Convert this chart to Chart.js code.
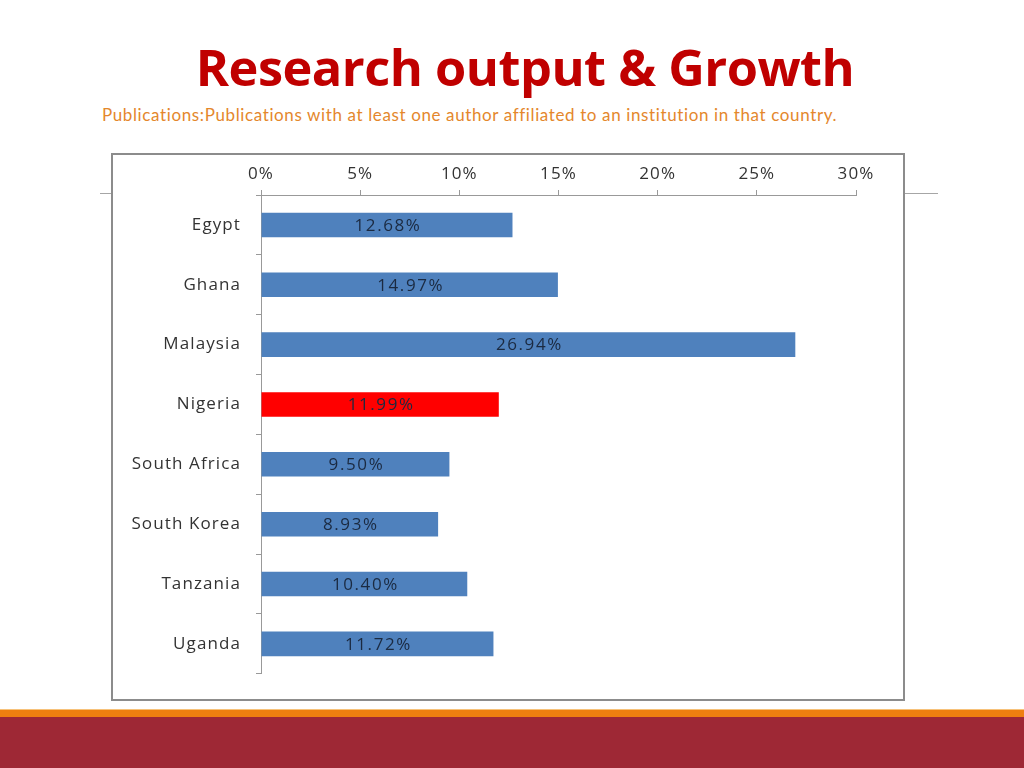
<!DOCTYPE html>
<html>
<head>
<meta charset="utf-8">
<script src="https://cdn.jsdelivr.net/npm/chart.js@4"></script>
<style>
body { margin: 0; width: 1024px; height: 768px; background: #fff; position: relative; overflow: hidden; font-family: Lato, sans-serif; }
#title { position: absolute; left: 0; width: 1050px; top: 42px; text-align: center; font-family: "Open Sans", sans-serif; font-weight: bold; font-size: 50.5px; color: #C00000; line-height: 1; letter-spacing: -0.5px; }
#sub { position: absolute; left: 102px; top: 104px; font-family: Lato, sans-serif; font-size: 17px; letter-spacing: 0.62px; color: #E4872C; white-space: nowrap; }
#rule { position: absolute; left: 100px; width: 838px; top: 193px; height: 1px; background: #A6A6A6; }
#frame { position: absolute; left: 111px; top: 153px; width: 790px; height: 544px; border: 2px solid #8C8C8C; background: #fff; }
#chartBox { position: absolute; left: 0; top: 0; width: 790px; height: 544px; }
#orange { position: absolute; left: 0; top: 709px; width: 1024px; height: 8px; background: #EF7F10; border-top: 1px solid #F7C27A; }
#red { position: absolute; left: 0; top: 717px; width: 1024px; height: 51px; background: #9E2835; }
</style>
</head>
<body>
<div id="title">Research output &amp; Growth</div>
<div id="sub">Publications:Publications with at least one author affiliated to an institution in that country.</div>
<div id="rule"></div>
<div id="frame"><div id="chartBox"><canvas id="myChart"></canvas></div></div>
<div id="orange"></div>
<div id="red"></div>
<script>
var Countries = ['Egypt', 'Ghana', 'Malaysia', 'Nigeria', 'South Africa', 'South Korea', 'Tanzania', 'Uganda'];
var Growth = [12.68, 14.97, 26.94, 11.99, 9.50, 8.93, 10.40, 11.72];
var BarColors = ['#4F81BD', '#4F81BD', '#4F81BD', '#FF0000', '#4F81BD', '#4F81BD', '#4F81BD', '#4F81BD'];
var TickValues = [0, 5, 10, 15, 20, 25, 30];

// the original text is a bit stretched, so widen it a little
var spacing = {
  id: 'spacing',
  beforeLayout: function (chart) { chart.ctx.letterSpacing = '1.1px'; },
  beforeDraw: function (chart) { chart.ctx.letterSpacing = '1.1px'; }
};

// labels written in the middle of each bar
var barLabels = {
  id: 'barLabels',
  afterDatasetsDraw: function (chart) {
    var ctx = chart.ctx;
    var meta = chart.getDatasetMeta(0);
    ctx.save();
    ctx.letterSpacing = '1.6px';
    ctx.font = '17px "Open Sans", sans-serif';
    ctx.fillStyle = '#1B2A41';
    ctx.textAlign = 'center';
    ctx.textBaseline = 'middle';
    meta.data.forEach(function (bar, i) {
      ctx.fillText(Growth[i].toFixed(2) + '%', (bar.x + bar.base) / 2 + 1, bar.y + 1);
    });
    ctx.restore();
  }
};

function createBarGraph(Countries, Growth) {
  new Chart('myChart', {
    type: 'bar',
    data: {
      labels: Countries,
      datasets: [{
        data: Growth,
        backgroundColor: BarColors,
        barPercentage: 0.41,
        categoryPercentage: 1
      }]
    },
    plugins: [spacing, barLabels],
    options: {
      indexAxis: 'y',
      responsive: true,
      maintainAspectRatio: false,
      animation: false,
      layout: { padding: { left: 0, top: 0, right: 47, bottom: 19 } },
      plugins: { legend: { display: false }, tooltip: { enabled: false } },
      scales: {
        x: {
          position: 'top',
          min: 0,
          max: 30,
          afterBuildTicks: function (scale) {
            scale.ticks = TickValues.map(function (v) { return { value: v }; });
          },
          afterFit: function (scale) { scale.height = 40; },
          ticks: {
            callback: function (v) { return v + '%'; },
            font: { family: '"Open Sans", sans-serif', size: 17 },
            color: '#333',
            padding: 6
          },
          grid: { drawOnChartArea: false, tickLength: 5, color: '#999' },
          border: { color: '#999' }
        },
        y: {
          afterFit: function (scale) { scale.width = 148; },
          ticks: {
            font: { family: '"Open Sans", sans-serif', size: 17 },
            color: '#333',
            padding: 15
          },
          grid: { drawOnChartArea: false, offset: true, tickLength: 5, color: '#999' },
          border: { color: '#999' }
        }
      }
    }
  });
}

createBarGraph(Countries, Growth);
</script>
</body>
</html>
